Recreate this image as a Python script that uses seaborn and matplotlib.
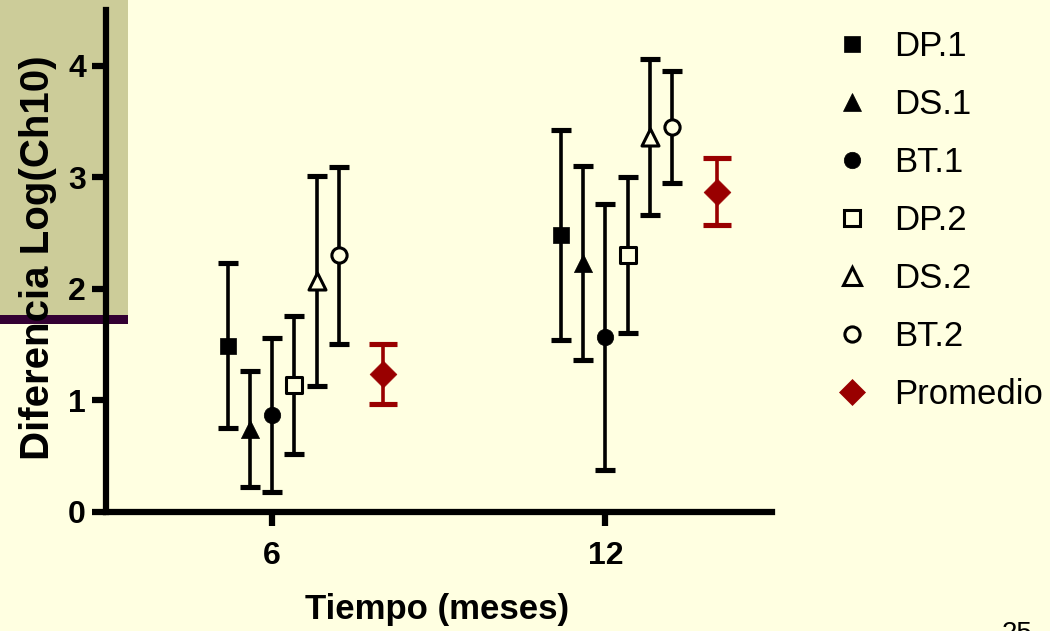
import numpy as np
import pandas as pd
import seaborn as sns
from matplotlib import pyplot as plt
from matplotlib.patches import Rectangle
from matplotlib.lines import Line2D

# data (mean and +/- error at 6 and 12 months)
tiempo = [6, 12]
series = ["DP.1", "DS.1", "BT.1", "DP.2", "DS.2", "BT.2", "Promedio"]
dp1_mean = [1.49, 2.48]
dp1_err = [0.74, 0.94]
ds1_mean = [0.74, 2.23]
ds1_err = [0.52, 0.87]
bt1_mean = [0.87, 1.57]
bt1_err = [0.69, 1.19]
dp2_mean = [1.14, 2.30]
dp2_err = [0.62, 0.70]
ds2_mean = [2.07, 3.36]
ds2_err = [0.94, 0.70]
bt2_mean = [2.30, 3.45]
bt2_err = [0.79, 0.50]
prom_mean = [1.24, 2.87]
prom_err = [0.27, 0.30]

means = [dp1_mean, ds1_mean, bt1_mean, dp2_mean, ds2_mean, bt2_mean, prom_mean]
errs = [dp1_err, ds1_err, bt1_err, dp2_err, ds2_err, bt2_err, prom_err]

rows = []
for i, s in enumerate(series):
    for j, t in enumerate(tiempo):
        rows.append([s, t, means[i][j], errs[i][j]])
df = pd.DataFrame(rows, columns=["serie", "tiempo", "media", "err"])

#%%
cream = "#FFFFE1"
red = "#990000"

sns.set_style("ticks")
plt.rcParams['font.family'] = ['Liberation Sans', 'DejaVu Sans']
plt.rcParams['text.color'] = 'black'

fig = plt.figure(figsize=(10.5, 6.31), dpi=100, facecolor=cream)
ax = fig.add_axes([0.1005, 0.1886, 0.6348, 0.7956])
ax.set_facecolor("none")

# slide decoration behind the plot
fig.add_artist(Rectangle((0, 1 - 315 / 631), 128 / 1050, 315 / 631,
                         transform=fig.transFigure, color="#CCCC99", zorder=-2, lw=0))
fig.add_artist(Rectangle((0, 1 - 324 / 631), 128 / 1050, 9 / 631,
                         transform=fig.transFigure, color="#330033", zorder=-1, lw=0))

# dodge of each series around the time point
dodge = {"DP.1": -0.8, "DS.1": -0.4, "BT.1": 0.0, "DP.2": 0.4,
         "DS.2": 0.8, "BT.2": 1.2, "Promedio": 2.0}
style = {
    "DP.1": dict(marker="s", s=135, fc="black"),
    "DS.1": dict(marker="^", s=170, fc="black"),
    "BT.1": dict(marker="o", s=140, fc="black"),
    "DP.2": dict(marker="s", s=120, fc=cream),
    "DS.2": dict(marker="^", s=150, fc=cream),
    "BT.2": dict(marker="o", s=120, fc=cream),
    "Promedio": dict(marker="D", s=185, fc=red),
}

for s in series:
    d = df[df.serie == s]
    xs = d.tiempo + dodge[s]
    st = style[s]
    col = red if s == "Promedio" else "black"
    ax.errorbar(xs, d.media, yerr=d.err, fmt="none", ecolor=col,
                elinewidth=2.6, capsize=10 if s == "Promedio" else 7.5,
                capthick=3.7, zorder=2)
    open_m = st["fc"] == cream
    sns.scatterplot(x=xs, y=d.media, marker=st["marker"], s=st["s"],
                    color=st["fc"], edgecolor=col,
                    linewidth=2.2 if open_m else 0.5, ax=ax, zorder=3,
                    legend=False)

ax.set_xlim(3, 15)
ax.set_ylim(0, 4.5)
ax.set_xticks(tiempo)
ax.set_yticks([0, 1, 2, 3, 4])
for side in ["top", "right"]:
    ax.spines[side].set_visible(False)
for side in ["left", "bottom"]:
    ax.spines[side].set_linewidth(4.5)
    ax.spines[side].set_color("black")
ax.tick_params(axis="both", width=4.5, length=10, color="black",
               labelsize=23, labelcolor="black")
ax.tick_params(axis="y", pad=4)
ax.tick_params(axis="x", pad=11)
for lab in ax.get_xticklabels() + ax.get_yticklabels():
    lab.set_fontweight("bold")

ax.set_xlabel("Tiempo (meses)", fontsize=25, fontweight="bold", color="black")
ax.set_ylabel("Diferencia Log(Ch10)", fontsize=29, fontweight="bold", color="black")
ax.xaxis.set_label_coords(0.498, -0.162)
ax.yaxis.set_label_coords(-0.073, 0.506)

# legend
handles = []
for s in series:
    st = style[s]
    col = red if s == "Promedio" else "black"
    ms = np.sqrt(st["s"])
    handles.append(Line2D([], [], linestyle="none", marker=st["marker"],
                          markersize=ms, markerfacecolor=st["fc"],
                          markeredgecolor=col,
                          markeredgewidth=2.2 if st["fc"] == cream else 0.5))
leg = fig.legend(handles, series, loc="upper left",
                 bbox_to_anchor=(835 / 1050, 1 - 30 / 631), frameon=False,
                 fontsize=25, handlelength=1.0, handletextpad=0.7,
                 labelspacing=0.72, borderpad=0, borderaxespad=0)
for t in leg.get_texts():
    t.set_color("black")

fig.text(1002 / 1050, 1 - 621 / 631, "25", fontsize=20, va="top", ha="left")

fig.savefig("out.png", dpi=100, facecolor=cream)
